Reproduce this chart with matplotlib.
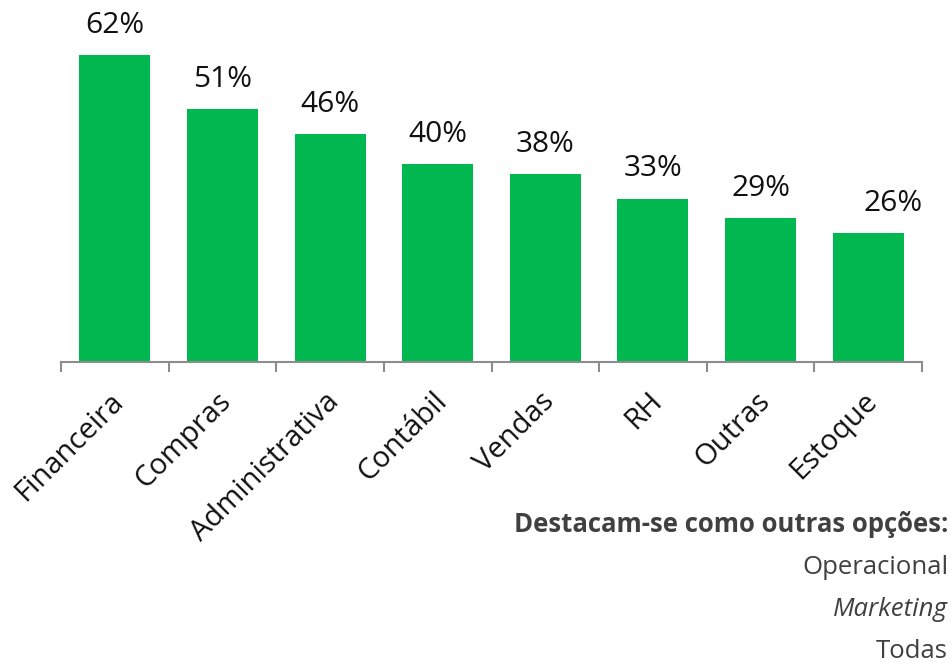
import matplotlib
matplotlib.use("Agg")
import matplotlib.pyplot as plt

plt.rcParams['font.family'] = ['Open Sans', 'DejaVu Sans']

categories = ["Financeira", "Compras", "Administrativa", "Contábil",
              "Vendas", "RH", "Outras", "Estoque"]
values = [62, 51, 46, 40, 38, 33, 29, 26]
other_title = "Destacam-se como outras opções:"
other_options = ["Operacional", "Marketing", "Todas"]

bar_color = "#00B84F"
axis_color = "#8C8C8C"

fig = plt.figure(figsize=(9.52, 6.65), dpi=100)
ax = fig.add_axes([61 / 952, 1 - 362 / 665, (922 - 61) / 952, 362 / 665])

x = list(range(len(categories)))
bars = ax.bar(x, values, width=0.66, color=bar_color)

ax.set_xlim(-0.5, len(categories) - 0.5)
ax.set_ylim(0, 73.1)

# the last value label is nudged to the right of its bar
for i, (rect, v) in enumerate(zip(bars, values)):
    dx = 18 if i == len(values) - 1 else 0
    ax.annotate(f"{v}%", (rect.get_x() + rect.get_width() / 2, v),
                xytext=(dx, 11), textcoords="offset points",
                ha="center", va="bottom", fontsize=21.5, color="#111111")

for side in ("left", "right", "top"):
    ax.spines[side].set_visible(False)
ax.spines["bottom"].set_color(axis_color)
ax.spines["bottom"].set_linewidth(1.5)
ax.set_yticks([])

ax.set_xticks([i - 0.5 for i in range(len(categories) + 1)])
ax.set_xticklabels([])
ax.tick_params(axis="x", direction="out", length=7, width=1.5, color=axis_color)

for i, name in enumerate(categories):
    ax.annotate(name, (i, 0), xytext=(-4, -18), textcoords="offset points",
                rotation=45, rotation_mode="anchor", ha="right", va="top",
                fontsize=21, color="#111111")

fig.text(948 / 952, 1 - 525 / 665, other_title, ha="right", va="center",
         fontsize=18.5, fontweight="bold", color="#404040")
for j, opt in enumerate(other_options):
    fig.text(948 / 952, 1 - (567 + 42.5 * j) / 665, opt, ha="right", va="center",
             fontsize=18.5, color="#404040",
             style="italic" if opt == "Marketing" else "normal")

fig.savefig("out.png", dpi=100)
